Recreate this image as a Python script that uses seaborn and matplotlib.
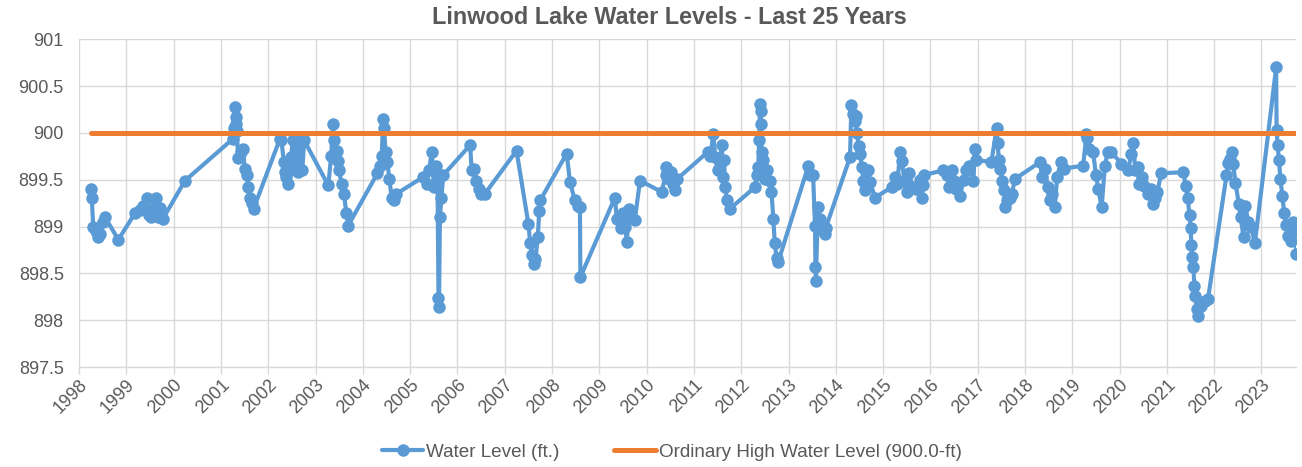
"""Linwood Lake water levels over the last 25 years."""
import pandas as pd
import seaborn as sns
import matplotlib.pyplot as plt

from matplotlib.ticker import FuncFormatter, MultipleLocator

years = [
    1998.25, 1998.27, 1998.30, 1998.35, 1998.40, 1998.45, 1998.50, 1998.55, 1998.83,
    1999.18, 1999.28, 1999.35, 1999.43, 1999.47, 1999.52, 1999.58, 1999.62, 1999.67,
    1999.72, 1999.77, 2000.24,
    2001.26, 2001.28, 2001.30, 2001.31, 2001.32, 2001.34, 2001.36, 2001.42, 2001.47,
    2001.50, 2001.55, 2001.58, 2001.62, 2001.66, 2001.69,
    2002.25, 2002.28, 2002.33, 2002.36, 2002.38, 2002.42, 2002.45, 2002.48, 2002.52,
    2002.55, 2002.60, 2002.64, 2002.67, 2002.72, 2002.76,
    2003.27, 2003.33, 2003.37, 2003.39, 2003.42, 2003.45, 2003.48, 2003.50, 2003.55,
    2003.60, 2003.65, 2003.69,
    2004.31, 2004.36, 2004.40, 2004.43, 2004.45, 2004.48, 2004.52, 2004.56, 2004.61,
    2004.65, 2004.71,
    2005.28, 2005.35, 2005.40, 2005.46, 2005.50, 2005.55, 2005.58, 2005.60, 2005.61,
    2005.63, 2005.66, 2005.70,
    2006.27, 2006.30, 2006.35, 2006.40, 2006.45, 2006.50, 2006.58,
    2007.25, 2007.50, 2007.54, 2007.58, 2007.61, 2007.65, 2007.70, 2007.73, 2007.75,
    2008.31, 2008.38, 2008.48, 2008.55, 2008.59, 2008.60,
    2009.33, 2009.37, 2009.45, 2009.50, 2009.55, 2009.58, 2009.63, 2009.68, 2009.75,
    2009.86,
    2010.32, 2010.40, 2010.42, 2010.48, 2010.52, 2010.55, 2010.60, 2010.65,
    2011.30, 2011.35, 2011.41, 2011.45, 2011.50, 2011.55, 2011.59, 2011.62, 2011.64,
    2011.66, 2011.70, 2011.76,
    2012.29, 2012.33, 2012.36, 2012.38, 2012.40, 2012.41, 2012.42, 2012.43, 2012.46,
    2012.50, 2012.55, 2012.61, 2012.64, 2012.68, 2012.71, 2012.75, 2012.78,
    2013.42, 2013.45, 2013.52, 2013.56, 2013.57, 2013.58, 2013.62, 2013.66, 2013.72,
    2013.77, 2013.79,
    2014.30, 2014.33, 2014.36, 2014.40, 2014.42, 2014.45, 2014.48, 2014.52, 2014.55,
    2014.58, 2014.62, 2014.68, 2014.72, 2014.83,
    2015.18, 2015.25, 2015.30, 2015.36, 2015.40, 2015.45, 2015.50, 2015.55, 2015.62,
    2015.70, 2015.78, 2015.82, 2015.84, 2015.86,
    2016.27, 2016.35, 2016.40, 2016.45, 2016.50, 2016.55, 2016.63, 2016.70, 2016.75,
    2016.82, 2016.91, 2016.94, 2016.97,
    2017.29, 2017.40, 2017.42, 2017.45, 2017.48, 2017.52, 2017.55, 2017.58, 2017.62,
    2017.68, 2017.72, 2017.79,
    2018.32, 2018.36, 2018.42, 2018.48, 2018.53, 2018.58, 2018.63, 2018.68, 2018.76,
    2018.82,
    2019.23, 2019.30, 2019.32, 2019.35, 2019.44, 2019.50, 2019.55, 2019.62, 2019.69,
    2019.75, 2019.82,
    2020.04, 2020.18, 2020.25, 2020.29, 2020.33, 2020.38, 2020.42, 2020.47, 2020.52,
    2020.60, 2020.66, 2020.71, 2020.75, 2020.80, 2020.88,
    2021.35, 2021.40, 2021.44, 2021.48, 2021.50, 2021.52, 2021.54, 2021.56, 2021.58,
    2021.60, 2021.63, 2021.66, 2021.72, 2021.80, 2021.87,
    2022.26, 2022.30, 2022.33, 2022.37, 2022.40, 2022.45, 2022.52, 2022.56, 2022.62,
    2022.66, 2022.72, 2022.78, 2022.86,
    2023.31, 2023.32, 2023.34, 2023.37, 2023.40, 2023.44, 2023.48, 2023.52, 2023.56,
    2023.62, 2023.66, 2023.70, 2023.74,
]

# lake level in feet
levels = [
    899.40, 899.30, 899.00, 898.95, 898.89, 898.92, 899.05, 899.10, 898.86,
    899.14, 899.18, 899.22, 899.30, 899.12, 899.10, 899.20, 899.30, 899.10,
    899.20, 899.08, 899.49,
    899.94, 900.05, 900.28, 900.17, 900.10, 900.02, 899.73, 899.80, 899.83,
    899.62, 899.55, 899.42, 899.31, 899.25, 899.19,
    899.94, 899.92, 899.69, 899.58, 899.53, 899.46, 899.60, 899.74, 899.92,
    899.65, 899.92, 899.58, 899.92, 899.60, 899.92,
    899.44, 899.75, 900.10, 899.92, 899.73, 899.81, 899.70, 899.60, 899.45,
    899.35, 899.15, 899.01,
    899.57, 899.65, 899.75, 900.15, 900.05, 899.80, 899.69, 899.51, 899.31,
    899.28, 899.35,
    899.53, 899.45, 899.60, 899.80, 899.42, 899.65, 899.50, 898.24, 898.14,
    899.10, 899.30, 899.55,
    899.87, 899.60, 899.62, 899.49, 899.40, 899.35, 899.35,
    899.81, 899.03, 898.82, 898.70, 898.60, 898.65, 898.89, 899.17, 899.28,
    899.78, 899.48, 899.28, 899.22, 899.21, 898.46,
    899.31, 899.08, 898.99, 899.15, 899.00, 898.83, 899.19, 899.10, 899.07,
    899.49,
    899.37, 899.55, 899.64, 899.51, 899.58, 899.45, 899.39, 899.51,
    899.80, 899.75, 899.99, 899.74, 899.60, 899.70, 899.87, 899.53, 899.71,
    899.42, 899.28, 899.19,
    899.42, 899.55, 899.64, 899.92, 900.31, 900.23, 900.10, 899.80, 899.71,
    899.51, 899.60, 899.49, 899.37, 899.08, 898.82, 898.66, 898.62,
    899.65, 899.55, 899.55, 899.01, 898.57, 898.42, 899.21, 899.08, 898.95,
    898.92, 898.99,
    899.74, 900.30, 900.20, 900.13, 900.18, 900.00, 899.86, 899.78, 899.64,
    899.49, 899.39, 899.60, 899.48, 899.31,
    899.42, 899.53, 899.45, 899.80, 899.70, 899.49, 899.37, 899.57, 899.42,
    899.40, 899.50, 899.31, 899.44, 899.55,
    899.60, 899.55, 899.42, 899.60, 899.49, 899.40, 899.33, 899.50, 899.60,
    899.65, 899.49, 899.83, 899.71,
    899.69, 900.05, 899.89, 899.71, 899.62, 899.49, 899.39, 899.21, 899.28,
    899.31, 899.35, 899.51,
    899.69, 899.53, 899.62, 899.42, 899.28, 899.35, 899.21, 899.53, 899.69,
    899.62,
    899.65, 899.99, 899.95, 899.83, 899.80, 899.55, 899.40, 899.21, 899.65,
    899.80, 899.80,
    899.67, 899.60, 899.78, 899.89, 899.60, 899.64, 899.46, 899.53, 899.43,
    899.35, 899.40, 899.24, 899.30, 899.37, 899.57,
    899.58, 899.43, 899.30, 899.12, 898.98, 898.80, 898.67, 898.57, 898.37,
    898.26, 898.12, 898.05, 898.15, 898.20, 898.23,
    899.55, 899.68, 899.72, 899.80, 899.67, 899.47, 899.24, 899.10, 898.89,
    899.22, 899.05, 899.00, 898.82,
    900.70, 900.03, 899.87, 899.71, 899.51, 899.33, 899.15, 899.02, 898.90,
    898.85, 899.05, 898.95, 898.71,
]

ohw_level = 900.0
tick_years = list(range(1998, 2024))

BLUE = '#5B9BD5'
ORANGE = '#ED7D31'
TEXT = '#595959'
GRID = '#D9D9D9'

sns.set_theme(style='whitegrid')
plt.rcParams['font.family'] = ['Liberation Sans', 'DejaVu Sans']

df = pd.DataFrame({'year': years, 'level': levels})
ohw = pd.DataFrame({'year': [years[0], years[-1]], 'level': [ohw_level, ohw_level]})

fig, ax = plt.subplots(figsize=(13.02, 4.67), dpi=100)
fig.subplots_adjust(left=0.0607, right=0.9954, top=0.9158, bottom=0.2141)

sns.lineplot(data=df, x='year', y='level', ax=ax, color=BLUE, linewidth=3.0,
             marker='o', markersize=9, markeredgewidth=0,
             estimator=None, sort=False, label='Water Level (ft.)',
             solid_joinstyle='round', solid_capstyle='round')
sns.lineplot(data=ohw, x='year', y='level', ax=ax, color=ORANGE, linewidth=3.6,
             estimator=None, sort=False,
             label='Ordinary High Water Level (900.0-ft)',
             solid_capstyle='round')

ax.set_xlim(1998, 2023.73)
ax.set_ylim(897.5, 901)
ax.yaxis.set_major_locator(MultipleLocator(0.5))
ax.yaxis.set_major_formatter(FuncFormatter(lambda v, p: f'{v:g}'))
ax.set_xticks(tick_years)
ax.set_xticklabels([str(y) for y in tick_years], rotation=45, ha='right',
                   rotation_mode='anchor')
ax.set_xlabel('')
ax.set_ylabel('')

ax.grid(True, color=GRID, linewidth=1)
for side in ['left', 'right', 'top']:
    ax.spines[side].set_visible(False)
ax.spines['bottom'].set_color(GRID)
ax.spines['bottom'].set_linewidth(1)
ax.tick_params(axis='x', colors=TEXT, labelsize=13, length=5, width=1,
               color=GRID, direction='out', bottom=True, pad=2)
ax.tick_params(axis='y', colors=TEXT, labelsize=13, length=0, pad=11)

handles, labels = ax.get_legend_handles_labels()
ax.get_legend().remove()
fig.legend(handles, labels, loc='center', bbox_to_anchor=(0.516, 0.032), ncol=2,
           frameon=False, fontsize=13.6, labelcolor=TEXT, handlelength=2.2,
           columnspacing=2.9, handletextpad=0.15)

fig.text(0.514, 0.962, 'Linwood Lake Water Levels - Last 25 Years', ha='center',
         va='center', fontsize=16.8, fontweight='bold', color=TEXT)

fig.savefig('out.png', dpi=100)
plt.close(fig)
